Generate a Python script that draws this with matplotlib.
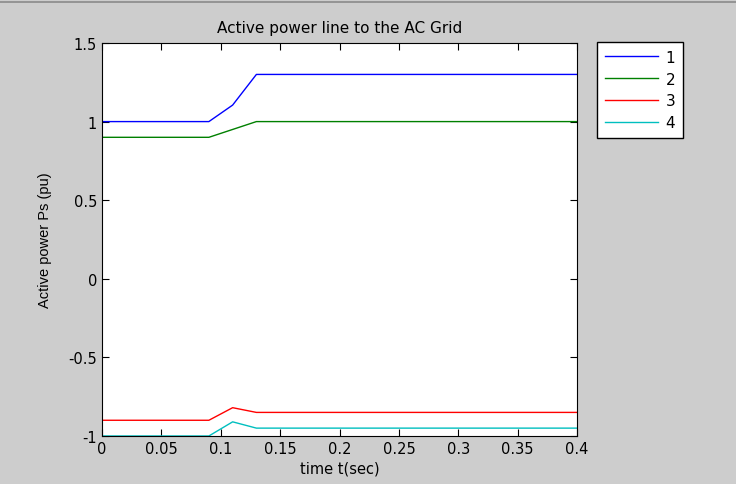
import matplotlib
matplotlib.use("Agg")
import matplotlib.pyplot as plt
from matplotlib.lines import Line2D

plt.rcParams['font.family'] = ['DejaVu Sans']

# time breakpoints (s) and active power per line (pu)
t = [0.0, 0.09, 0.11, 0.13, 0.4]
p1 = [1.0, 1.0, 1.105, 1.3, 1.3]
p2 = [0.9, 0.9, 0.95, 1.0, 1.0]
p3 = [-0.9, -0.9, -0.82, -0.85, -0.85]
p4 = [-1.0, -1.0, -0.91, -0.95, -0.95]
labels = ['1', '2', '3', '4']
colors = ['#0000ff', '#008000', '#ff0000', '#00bfbf']

fig = plt.figure(figsize=(7.36, 4.85), dpi=100, facecolor='#cdcdcd')
ax = fig.add_axes([0.1386, 0.099, 0.6454, 0.8103])

for p, lab, c in zip([p1, p2, p3, p4], labels, colors):
    ax.plot(t, p, color=c, lw=1.0, label=lab)

ax.set_xlim(0, 0.4)
ax.set_ylim(-1, 1.5)
ax.set_xticks([0, 0.05, 0.1, 0.15, 0.2, 0.25, 0.3, 0.35, 0.4])
ax.set_xticklabels(['0', '0.05', '0.1', '0.15', '0.2', '0.25', '0.3', '0.35', '0.4'])
ax.set_yticks([-1, -0.5, 0, 0.5, 1, 1.5])
ax.set_yticklabels(['-1', '-0.5', '0', '0.5', '1', '1.5'])
ax.tick_params(direction='in', top=True, right=True, labelsize=10.5, length=5, width=0.8)
for sp in ax.spines.values():
    sp.set_linewidth(0.8)

ax.set_title('Active power line to the AC Grid', fontsize=11, pad=8)
ax.set_xlabel('time t(sec)', fontsize=10.5, labelpad=3)
ax.set_ylabel('Active power Ps (pu)', fontsize=10.5, labelpad=12,
              family='Liberation Sans')

leg = ax.legend(loc='upper left', bbox_to_anchor=(597 / 736, 1 - 43 / 485),
                bbox_transform=fig.transFigure, borderaxespad=0, fancybox=False,
                framealpha=1, edgecolor='black', fontsize=11, handlelength=3.5,
                handletextpad=0.5, labelspacing=0.45, borderpad=0.5)
leg.get_frame().set_linewidth(1.0)

# thin border line at the very top of the window
fig.add_artist(Line2D([0, 1], [1 - 3 / 485, 1 - 3 / 485], color='#8a8a8a',
                      lw=1.2, transform=fig.transFigure))

fig.savefig('out.png', dpi=100, facecolor=fig.get_facecolor())
